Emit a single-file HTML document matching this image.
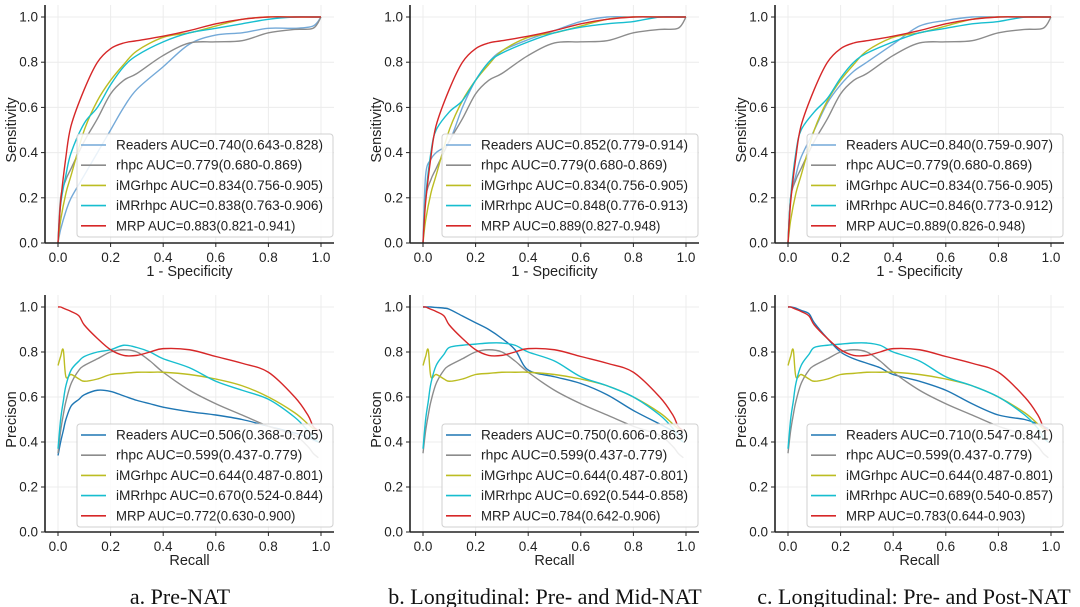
<!DOCTYPE html>
<html><head><meta charset="utf-8">
<style>
html,body{margin:0;padding:0;background:#fff;}
svg{display:block;font-family:"Liberation Sans",sans-serif;}
.cap{font-family:"Liberation Serif",serif;font-size:22px;fill:#111;}
</style></head>
<body>
<svg id="fig" width="1080" height="607" viewBox="0 0 1080 607"></svg>
<script>
// ---- data ----
const names = ["Readers","rhpc","iMGrhpc","iMRrhpc","MRP"];
const rocX = [0,0.01,0.03,0.05,0.1,0.15,0.2,0.25,0.3,0.4,0.5,0.6,0.7,0.8,0.9,0.97,1];
const rocRhpc = [0,0.2,0.28,0.33,0.45,0.55,0.66,0.72,0.75,0.83,0.885,0.89,0.895,0.93,0.945,0.95,1];
const rocImg = [0,0.1,0.22,0.3,0.5,0.63,0.72,0.79,0.85,0.91,0.93,0.96,0.99,1,1,1,1];
const rocMrp = [0,0.18,0.38,0.52,0.68,0.8,0.86,0.885,0.895,0.915,0.94,0.97,0.99,1,1,1,1];
const rocReadersA = [0,0.06,0.14,0.2,0.3,0.4,0.5,0.6,0.68,0.78,0.88,0.92,0.93,0.95,0.95,0.96,1];
const rocReadersB = [0,0.3,0.37,0.4,0.45,0.6,0.72,0.8,0.85,0.9,0.94,0.98,1,1,1,1,1];
const rocReadersC = [0,0.2,0.3,0.38,0.5,0.62,0.7,0.76,0.8,0.88,0.96,0.985,1,1,1,1,1];
const rocImrA = [0,0.17,0.3,0.4,0.53,0.6,0.7,0.78,0.83,0.89,0.93,0.95,0.97,0.99,1,1,1];
const rocImrB = [0,0.2,0.4,0.5,0.58,0.63,0.72,0.8,0.84,0.89,0.93,0.955,0.97,0.98,1,1,1];
const rocImrC = [0,0.2,0.4,0.5,0.58,0.64,0.73,0.8,0.84,0.89,0.93,0.95,0.97,0.98,1,1,1];

const prX = [0,0.01,0.02,0.03,0.05,0.08,0.1,0.15,0.2,0.25,0.3,0.35,0.4,0.5,0.6,0.7,0.8,0.9,0.95,0.97,0.99];
const prRhpc = [0.35,0.45,0.52,0.58,0.66,0.72,0.74,0.77,0.8,0.81,0.8,0.76,0.71,0.63,0.57,0.52,0.47,0.43,0.38,0.35,0.33];
const prImg = [0.74,0.78,0.81,0.69,0.7,0.68,0.67,0.68,0.7,0.705,0.71,0.71,0.71,0.7,0.68,0.65,0.6,0.53,0.48,0.46,0.45];
const prImrA = [0.37,0.5,0.58,0.65,0.72,0.76,0.78,0.8,0.81,0.83,0.82,0.8,0.77,0.73,0.67,0.63,0.59,0.51,0.45,0.42,0.4];
const prImrB = [0.37,0.5,0.58,0.66,0.74,0.79,0.82,0.83,0.835,0.84,0.84,0.83,0.8,0.76,0.69,0.65,0.6,0.52,0.46,0.42,0.4];
const prMrp = [1,1,0.995,0.99,0.98,0.96,0.92,0.86,0.81,0.785,0.785,0.8,0.815,0.81,0.78,0.75,0.71,0.6,0.52,0.47,0.45];
const prReadersA = [0.34,0.4,0.45,0.5,0.56,0.59,0.61,0.63,0.625,0.605,0.585,0.57,0.555,0.535,0.52,0.5,0.47,0.44,0.42,0.41,0.4];
const prReadersB = [1,1,1,1,0.998,0.995,0.99,0.96,0.93,0.9,0.86,0.81,0.72,0.69,0.66,0.61,0.54,0.48,0.45,0.44,0.43];
const prReadersC = [1,1,0.998,0.995,0.985,0.97,0.93,0.86,0.8,0.77,0.75,0.73,0.7,0.67,0.63,0.57,0.52,0.5,0.48,0.47,0.46];

const ticks = [0,0.2,0.4,0.6,0.8,1.0];
const tickLabels = ["0.0","0.2","0.4","0.6","0.8","1.0"];
const rocLegA = ["Readers AUC=0.740(0.643-0.828)","rhpc AUC=0.779(0.680-0.869)","iMGrhpc AUC=0.834(0.756-0.905)","iMRrhpc AUC=0.838(0.763-0.906)","MRP AUC=0.883(0.821-0.941)"];
const rocLegB = ["Readers AUC=0.852(0.779-0.914)","rhpc AUC=0.779(0.680-0.869)","iMGrhpc AUC=0.834(0.756-0.905)","iMRrhpc AUC=0.848(0.776-0.913)","MRP AUC=0.889(0.827-0.948)"];
const rocLegC = ["Readers AUC=0.840(0.759-0.907)","rhpc AUC=0.779(0.680-0.869)","iMGrhpc AUC=0.834(0.756-0.905)","iMRrhpc AUC=0.846(0.773-0.912)","MRP AUC=0.889(0.826-0.948)"];
const prLegA = ["Readers AUC=0.506(0.368-0.705)","rhpc AUC=0.599(0.437-0.779)","iMGrhpc AUC=0.644(0.487-0.801)","iMRrhpc AUC=0.670(0.524-0.844)","MRP AUC=0.772(0.630-0.900)"];
const prLegB = ["Readers AUC=0.750(0.606-0.863)","rhpc AUC=0.599(0.437-0.779)","iMGrhpc AUC=0.644(0.487-0.801)","iMRrhpc AUC=0.692(0.544-0.858)","MRP AUC=0.784(0.642-0.906)"];
const prLegC = ["Readers AUC=0.710(0.547-0.841)","rhpc AUC=0.599(0.437-0.779)","iMGrhpc AUC=0.644(0.487-0.801)","iMRrhpc AUC=0.689(0.540-0.857)","MRP AUC=0.783(0.644-0.903)"];
const captions = ["a. Pre-NAT","b. Longitudinal: Pre- and Mid-NAT","c. Longitudinal: Pre- and Post-NAT"];

// ---- drawing ----
const NS="http://www.w3.org/2000/svg";
const svg=document.getElementById('fig');
const rocColors=["#74a9d8","#8c8c8c","#bcbd22","#17becf","#d62728"];
const prColors=["#1f77b4","#8c8c8c","#bcbd22","#17becf","#d62728"];
function mk(tag,attrs,parent){const e=document.createElementNS(NS,tag);for(const k in attrs)e.setAttribute(k,attrs[k]);(parent||svg).appendChild(e);return e;}
function smooth(pts){let d="M"+pts[0][0].toFixed(2)+","+pts[0][1].toFixed(2);
 for(let i=0;i<pts.length-1;i++){const p0=pts[Math.max(i-1,0)],p1=pts[i],p2=pts[i+1],p3=pts[Math.min(i+2,pts.length-1)];
  const c1=[p1[0]+(p2[0]-p0[0])/6,p1[1]+(p2[1]-p0[1])/6],c2=[p2[0]-(p3[0]-p1[0])/6,p2[1]-(p3[1]-p1[1])/6];
  d+=" C"+c1[0].toFixed(2)+","+c1[1].toFixed(2)+" "+c2[0].toFixed(2)+","+c2[1].toFixed(2)+" "+p2[0].toFixed(2)+","+p2[1].toFixed(2);}
 return d;}

function panel(id,x0,yTop,yBot,xs,series,legend,colors,xlabel,ylabel,legTop){
 const x1=x0+263;
 const g=mk('g',{});
 
 
 const sx=v=>x0+v*(x1-x0), sy=v=>yBot-v*(yBot-yTop);
 ticks.forEach((t,i)=>{
  const gl=mk('line',{x1:sx(t),x2:sx(t),y1:yTop-12,y2:yBot,stroke:"#ececec","stroke-width":1},g);
  
  
  const hl=mk('line',{x1:x0-13,x2:x1+13,y1:sy(t),y2:sy(t),stroke:"#ececec","stroke-width":1},g);
  
  
 });
 series.forEach((ys,k)=>{
  const pts=xs.map((x,i)=>[sx(x),sy(ys[i])]);
  const p=mk('path',{d:smooth(pts),fill:"none",stroke:colors[k],"stroke-width":1.4,"stroke-linejoin":"round"},g);
  
  
 });
 const ls=mk('line',{x1:x0-13,x2:x0-13,y1:yTop-12,y2:yBot,stroke:"#222","stroke-width":1.6},g);
 
 
 const bs=mk('line',{x1:x0-13,x2:x1+13,y1:yBot,y2:yBot,stroke:"#222","stroke-width":1.6},g);
 
 
 ticks.forEach((t,i)=>{
  mk('line',{x1:x0-17,x2:x0-13,y1:sy(t),y2:sy(t),stroke:"#222","stroke-width":1},g);
  mk('line',{x1:sx(t),x2:sx(t),y1:yBot,y2:yBot+4,stroke:"#222","stroke-width":1},g);
  const yl=mk('text',{x:x0-20,y:sy(t)+4.5,"text-anchor":"end","font-size":13.5,fill:"#222"},g);
  yl.textContent=tickLabels[i];
  
  
  const xl=mk('text',{x:sx(t),y:yBot+19,"text-anchor":"middle","font-size":13.5,fill:"#222"},g);
  xl.textContent=tickLabels[i];
  
  
 });
 const xt=mk('text',{x:(x0+x1)/2,y:yBot+33,"text-anchor":"middle","font-size":14.5,fill:"#222"},g);
 xt.textContent=xlabel;
 
 
 const cy=(yTop+yBot)/2;
 const yt=mk('text',{x:x0-42,y:cy,"text-anchor":"middle","font-size":14.5,fill:"#222",transform:`rotate(-90 ${x0-42} ${cy})`},g);
 yt.textContent=ylabel;
 
 
 const lg=mk('g',{},g);
 
 
 mk('rect',{x:x0+19,y:legTop,width:x1+12-(x0+19),height:103,rx:3,fill:"rgba(255,255,255,0.85)",stroke:"#d0d0d0","stroke-width":1},lg);
 legend.forEach((s,k)=>{
  const ry=legTop+11+k*20.2;
  const e=mk('g',{},lg);
  
  
  mk('line',{x1:x0+23,x2:x0+48,y1:ry,y2:ry,stroke:colors[k],"stroke-width":1.6},e);
  const t=mk('text',{x:x0+58,y:ry+4.5,"font-size":13.5,fill:"#222",textLength:s.length*6.9,lengthAdjust:"spacingAndGlyphs"},e);
  t.textContent=s;
 });
}
const offs=[58,423,788];
const rocR=[rocReadersA,rocReadersB,rocReadersC], rocI=[rocImrA,rocImrB,rocImrC];
const prR=[prReadersA,prReadersB,prReadersC], prI=[prImrA,prImrB,prImrB];
const rocL=[rocLegA,rocLegB,rocLegC], prL=[prLegA,prLegB,prLegC];
for(let p=0;p<3;p++){
 panel('roc-panel-'+"abc"[p],offs[p],17,243,rocX,[rocR[p],rocRhpc,rocImg,rocI[p],rocMrp],rocL[p],rocColors,"1 - Specificity","Sensitivity",134);
 panel('pr-panel-'+"abc"[p],offs[p],307,532,prX,[prR[p],prRhpc,prImg,prI[p],prMrp],prL[p],prColors,"Recall","Precison",424);
 const c=mk('text',{x:[180,545,914][p],y:604,"text-anchor":"middle",class:"cap"});
 c.textContent=captions[p];
 
 
}
</script>
</body></html>
